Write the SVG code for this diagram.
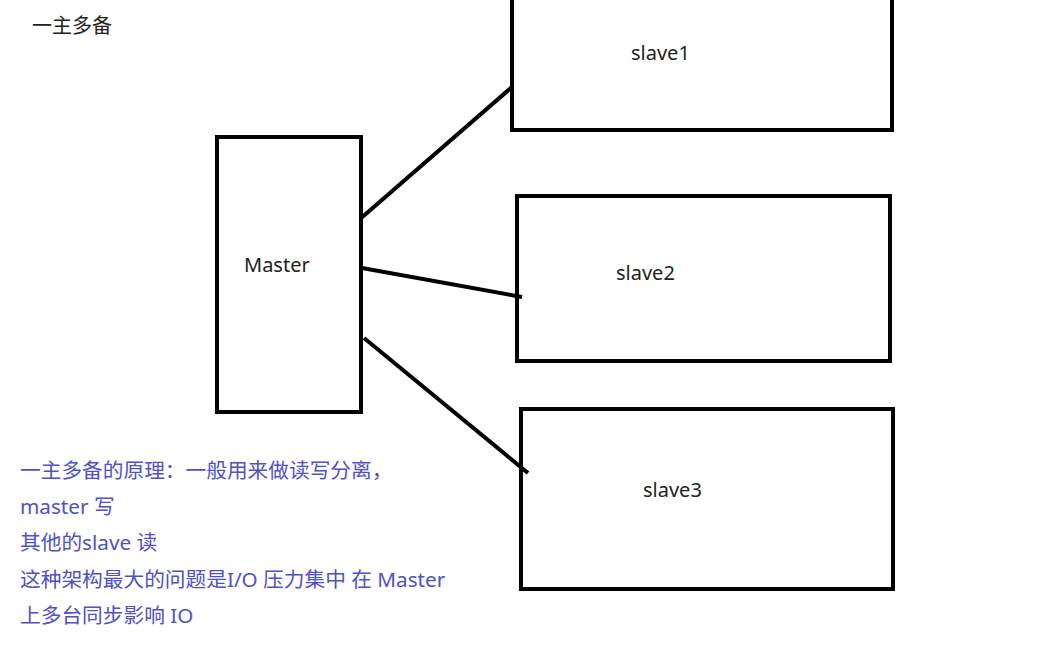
<svg xmlns="http://www.w3.org/2000/svg" width="1049" height="655" viewBox="0 0 1049 655">
<style>
.box{fill:#fff;stroke:#000;stroke-width:4}
.con{stroke:#000;stroke-width:4;fill:none}
.lbl{font-family:"Noto Sans","Noto Sans CJK SC",sans-serif;font-size:20px;fill:#222}
.note{font-family:"Noto Sans","Noto Sans CJK SC",sans-serif;font-size:20.7px;fill:#5050c8}
</style>
<rect width="1049" height="655" fill="#fff"/>
<text class="lbl" x="32" y="33">一主多备</text>
<g id="master">
<rect class="box" x="217" y="137" width="144" height="275"/>
<text class="lbl" x="244" y="272">Master</text>
</g>
<g id="slave1">
<rect class="box" x="512" y="-2" width="380" height="132"/>
<text class="lbl" x="631" y="60">slave1</text>
</g>
<g id="slave2">
<rect class="box" x="517" y="196" width="373" height="165"/>
<text class="lbl" x="616" y="280">slave2</text>
</g>
<g id="slave3">
<rect class="box" x="521" y="409" width="372" height="180"/>
<text class="lbl" x="643" y="497">slave3</text>
</g>
<g id="connectors">
<line class="con" x1="360" y1="219" x2="512" y2="87"/>
<line class="con" x1="362" y1="268" x2="522" y2="297"/>
<line class="con" x1="364" y1="338" x2="528" y2="473"/>
</g>
<g id="notes">
<text class="note" x="20" y="478">一主多备的原理：一般用来做读写分离，</text>
<text class="note" x="20" y="514">master 写</text>
<text class="note" x="20" y="550">其他的slave 读</text>
<text class="note" x="20" y="587">这种架构最大的问题是I/O 压力集中 在 Master</text>
<text class="note" x="20" y="623">上多台同步影响 IO</text>
</g>
</svg>
